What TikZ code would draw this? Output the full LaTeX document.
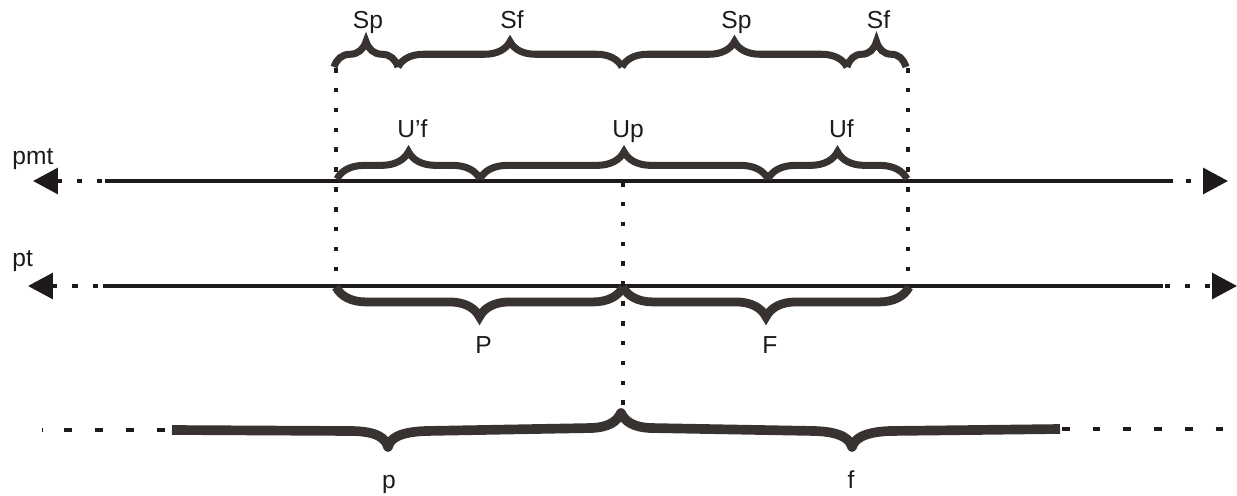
\documentclass[tikz,border=0pt]{standalone}
\usepackage{fontspec}
\setmainfont{Liberation Sans}
\usepackage{xcolor}
\usetikzlibrary{arrows.meta, decorations.pathreplacing}
\definecolor{bracegray}{RGB}{56,51,48}
\definecolor{inkblack}{RGB}{30,26,27}

\begin{document}
\begin{tikzpicture}[x=0.02cm, y=-0.02cm,
	lab/.style={font=\fontsize{14}{16}\selectfont, text=inkblack, inner sep=0pt, anchor=base},
	axisline/.style={draw=inkblack, line width=1.9pt},
	ext/.style={draw=inkblack, line width=2pt, dash pattern=on 2.8pt off 8.5pt},
	guide/.style={draw=inkblack, line width=1.8pt, dash pattern=on 2.6pt off 8.7pt},
	headtip/.style={{Triangle[length=14.2pt, width=14.7pt]}-},
	curly/.style={draw=bracegray, decorate, decoration={brace, amplitude=#1}},
	]
	\useasboundingbox (0,0) rectangle (1237,496);

	% line ends
	\coordinate (pmtW) at (33,181);
	\coordinate (pmtA) at (105,181);
	\coordinate (pmtB) at (1171,181);
	\coordinate (pmtE) at (1228,181);
	\coordinate (ptW) at (28,286);
	\coordinate (ptA) at (103,286);
	\coordinate (ptB) at (1163,286);
	\coordinate (ptE) at (1237,286);

	% dotted guides
	\draw[guide] (336,68) -- (336,286);
	\draw[guide] (908,68) -- (908,286);
	\draw[guide] (623,182) -- (623,413);

	% the two lines
	\draw[axisline] (pmtA) -- (pmtB);
	\draw[ext, headtip] (pmtW) -- (pmtA);
	\draw[ext, headtip, dash pattern=on 2.8pt off 7.4pt, dash phase=2.8pt] (pmtE) -- (pmtB);
	\draw[axisline] (ptA) -- (ptB);
	\draw[ext, headtip, dash pattern=on 3pt off 8.6pt] (ptW) -- (ptA);
	\draw[ext, headtip, dash phase=9.6pt] (ptE) -- (ptB);
	\node[lab, anchor=base west] (pmt) at (12,165) {pmt};
	\node[lab, anchor=base west] (pt) at (12,267) {pt};

	% braces above
	\foreach \a/\b/\t [count=\c] in {334/398/Sp, 398/622/Sf, 622/847/Sp, 847/906/Sf}
	{
		\draw[curly=14.5pt, line width=4pt] (\a,67) -- (\b,67);
		\node[lab] (s\c) at ({(\a+\b)/2+2},29) {\t};
	}
	\foreach \a/\b/\t [count=\c] in {337/480/U’f, 480/768/Up, 768/907/Uf}
	{
		\draw[curly=15.5pt, line width=4pt] (\a,179) -- (\b,179);
		\node[lab] (u\c) at ({(\a+\b)/2+4},138) {\t};
	}
	\foreach \a/\b/\t [count=\c] in {623/336/P, 909/623/F}
	{
		\draw[curly=17pt, line width=5pt] (\a,287) -- (\b,287);
		\node[lab] (g\c) at ({(\a+\b)/2+4},354) {\t};
	}

	% bottom braces
	\coordinate (pW) at (42,430);
	\coordinate (pA) at (172,430);
	\coordinate (fB) at (1060,429);
	\coordinate (fE) at (1225,429);
	\draw[ext, line width=2.3pt, dash pattern=on 0.8pt off 12pt on 4.5pt off 13pt on 4.5pt off 13pt on 4.5pt off 13pt on 4.5pt off 20pt] (pW) -- (pA);
	\draw[ext, line width=2.3pt, dash pattern=on 4.5pt off 13pt, dash phase=-1pt] (fB) -- (fE);
	\draw[bracegray, line width=5.5pt, line join=round]
		(pA) -- (350,431) .. controls (378,431) and (386,439) .. (388,447)
		.. controls (390,439) and (398,432) .. (426,431) -- (592,428)
		.. controls (610,427) and (617,421) .. (621,413)
		.. controls (625,421) and (632,427) .. (650,428) -- (815,431)
		.. controls (843,432) and (850,440) .. (852,447)
		.. controls (854,440) and (862,432) .. (890,431) -- (fB);
	\node[lab] (p) at (389,488) {p};
	\node[lab] (f) at (851,488) {f};
\end{tikzpicture}
\end{document}
